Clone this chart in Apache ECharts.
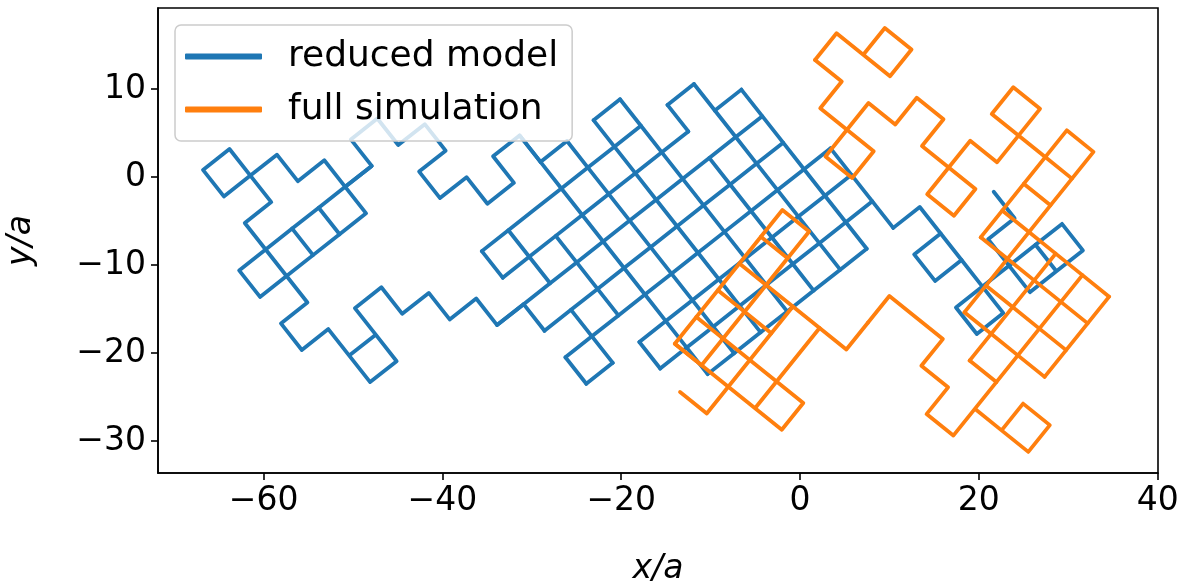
<!DOCTYPE html>
<html>
<head>
<meta charset="utf-8">
<script src="https://cdn.jsdelivr.net/npm/echarts@6/dist/echarts.min.js"></script>
<style>
    html, body { margin: 0; padding: 0; background: #fff; }
    #chart { width: 1192px; height: 585px; }
</style>
</head>
<body>
<div id="chart"></div>
<script>
    // both walks live on a tilted square lattice: a start node and a string of moves
    // E = up-right edge, W = back along it, S = down-right edge, N = back along it
    var blueOrigin = [-66.78, 0.80]
    var blueStepE = [2.966, 2.374]
    var blueStepS = [2.337, -3.014]
    var blueStrokes = [
        [[1, 1], 'WNESESESENESESWSESENES'],
        [[1, 1], 'SWSWSENEEEE'],
        [[0, 4], 'EEEN'],
        [[1, 3], 'S'],
        [[2, 3], 'S'],
        [[0, 4], 'SWSESSENWENESESESE'],
        // dense middle part
        [[5, 7], 'EEEEEE'],
        [[5, 8], 'EEEEEEE'],
        [[4, 9], 'EEEEEEEEEE'],
        [[5, 10], 'EEEEEEEEE'],
        [[5, 11], 'EEEEEEEEEE'],
        [[5, 12], 'E'],
        [[7, 12], 'EEEEEEEE'],
        [[7, 13], 'EEEEEEEE'],
        [[8, 14], 'EEEEEE'],
        [[8, 6], 'E'],
        [[10, 6], 'E'],
        [[12, 7], 'E'],
        [[13, 8], 'E'],
        [[5, 7], 'S'],
        [[5, 9], 'S'],
        [[5, 11], 'S'],
        [[6, 7], 'SS'],
        [[6, 10], 'SS'],
        [[7, 8], 'SSS'],
        [[7, 12], 'S'],
        [[8, 5], 'SSSSSSSSS'],
        [[9, 6], 'SSSSSSSS'],
        [[10, 6], 'SSSSSSSS'],
        [[11, 6], 'SSSSSSSS'],
        [[12, 7], 'S'],
        [[12, 9], 'SSSSS'],
        [[13, 7], 'SSSSSSS'],
        [[14, 8], 'SSSSSS'],
        [[15, 11], 'SSS'],
        // arm to the right
        [[15, 14], 'ESSSSWNEENEN'],
        [[16, 15], 'WSE'],
        [[17, 17], 'SENESW'],
        [[17, 17], 'E']
    ]

    var orangeOrigin = [-13.42, -24.43]
    var orangeStepE = [2.407, 3.039]
    var orangeStepS = [2.991, -2.445]
    var orangeStrokes = [
        [[10, -3], 'ESESWN'],
        [[10, -3], 'SWSESESWSESENESWSSENW'],
        [[9, -1], 'WSEN'],
        [[10, 2], 'WSEN'],
        [[9, 4], 'EEE'],
        [[7, 5], 'EEEEE'],
        [[9, 4], 'S'],
        [[10, 4], 'S'],
        [[11, 4], 'S'],
        [[5, 3], 'ESSWSWSESSENWNE'],
        [[6, 6], 'EEEE'],
        [[6, 7], 'EEEE'],
        [[7, 8], 'EEE'],
        [[6, 6], 'S'],
        [[7, 5], 'SSS'],
        [[8, 5], 'SSS'],
        [[9, 5], 'SSS'],
        [[10, 5], 'SSS'],
        // middle cluster
        [[0, 0], 'SEEEE'],
        [[1, -1], 'EEEEESWWWWWN'],
        [[1, -1], 'SSSSENW'],
        [[2, -1], 'SSS'],
        [[3, -1], 'SS'],
        [[4, -1], 'SSSSE'],
        [[5, -1], 'S'],
        [[2, 2], 'EE']
    ]

    var xTicks = [-60, -40, -20, 0, 20, 40]
    var yTicks = [-30, -20, -10, 0, 10]

    function walk(origin, stepE, stepS, strokes) {
        return strokes.map(function (s) {
            var a = s[0][0], b = s[0][1]
            var pts = []
            var put = function () {
                pts.push([origin[0] + a * stepE[0] + b * stepS[0], origin[1] + a * stepE[1] + b * stepS[1]])
            }
            put()
            for (var i = 0; i < s[1].length; i++) {
                var c = s[1][i]
                if (c === 'E') a++
                else if (c === 'W') a--
                else if (c === 'S') b++
                else if (c === 'N') b--
                put()
            }
            return { coords: pts }
        })
    }

    var font = 'DejaVu Sans'
    var chart = echarts.init(document.getElementById('chart'))
    chart.setOption({
        animation: false,
        textStyle: { fontFamily: font },
        grid: {
            left: 158, right: 34, top: 8, bottom: 112,
            outerBoundsMode: 'none', containLabel: false,
            show: true, borderColor: '#000', borderWidth: 1.6, backgroundColor: 'transparent'
        },
        legend: {
            orient: 'vertical',
            left: 175, top: 25,
            padding: [11, 14, 11, 10],
            itemGap: 12,
            itemWidth: 75, itemHeight: 4,
            icon: 'rect',
            backgroundColor: 'rgba(255,255,255,0.8)',
            borderColor: '#cccccc', borderWidth: 1.5, borderRadius: 6,
            textStyle: { fontFamily: font, fontSize: 36, color: '#000', lineHeight: 41, padding: [0, 0, 0, 22] },
            data: ['reduced model', 'full simulation']
        },
        xAxis: {
            type: 'value', min: -71.81, max: 40.04,
            name: 'x/a', nameLocation: 'middle', nameGap: 80,
            nameTextStyle: { fontFamily: font, fontSize: 33, fontStyle: 'italic', color: '#000' },
            axisLine: { show: true, onZero: false, lineStyle: { color: '#000', width: 1.6 } },
            axisTick: { show: true, length: 7, customValues: xTicks, lineStyle: { color: '#000', width: 1.6 } },
            axisLabel: { customValues: xTicks, fontFamily: font, fontSize: 33, color: '#000', margin: 12,
                formatter: function (v) { return String(v).replace('-', '\u2212') } },
            splitLine: { show: false }
        },
        yAxis: {
            type: 'value', min: -33.64, max: 19.2,
            name: 'y/a', nameLocation: 'middle', nameGap: 120, nameRotate: 90,
            nameTextStyle: { fontFamily: font, fontSize: 33, fontStyle: 'italic', color: '#000' },
            axisLine: { show: true, onZero: false, lineStyle: { color: '#000', width: 1.6 } },
            axisTick: { show: true, length: 7, customValues: yTicks, lineStyle: { color: '#000', width: 1.6 } },
            axisLabel: { customValues: yTicks, fontFamily: font, fontSize: 33, color: '#000', margin: 12,
                formatter: function (v) { return String(v).replace('-', '\u2212') } },
            splitLine: { show: false }
        },
        series: [
            {
                name: 'reduced model', type: 'lines', coordinateSystem: 'cartesian2d', polyline: true,
                data: walk(blueOrigin, blueStepE, blueStepS, blueStrokes),
                lineStyle: { color: '#1f77b4', width: 3.8, opacity: 1, cap: 'round', join: 'round' },
                itemStyle: { color: '#1f77b4' }, z: 2
            },
            {
                name: 'full simulation', type: 'lines', coordinateSystem: 'cartesian2d', polyline: true,
                data: walk(orangeOrigin, orangeStepE, orangeStepS, orangeStrokes),
                lineStyle: { color: '#ff7f0e', width: 3.8, opacity: 1, cap: 'round', join: 'round' },
                itemStyle: { color: '#ff7f0e' }, z: 3
            }
        ]
    })
</script>
</body>
</html>
